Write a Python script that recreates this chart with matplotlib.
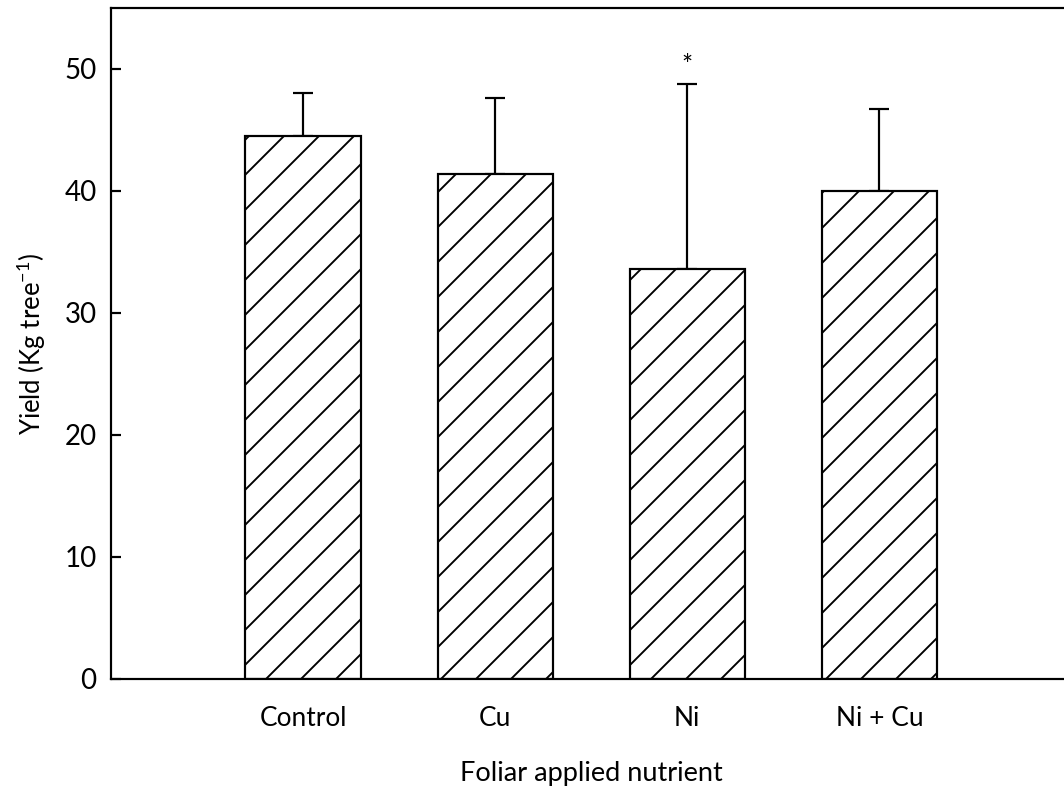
import matplotlib
matplotlib.use("Agg")
import matplotlib.pyplot as plt
import numpy as np

# Yield per tree under foliar nutrient treatments
treatments = ["Control", "Cu", "Ni", "Ni + Cu"]
yield_mean = [44.5, 41.4, 33.6, 40.0]
yield_err = [3.5, 6.2, 15.2, 6.7]
significant = [False, False, True, False]

DPI = 105
plt.rcParams["font.family"] = ["Lato", "DejaVu Sans"]
plt.rcParams["hatch.linewidth"] = 1.3

fig = plt.figure(figsize=(1064 / DPI, 791 / DPI), dpi=DPI)
ax = fig.add_axes([0.1043, 0.1416, 0.9027, 0.8483])

x = np.arange(1, len(treatments) + 1)
ax.bar(x, yield_mean, width=0.6, facecolor="white", edgecolor="black",
       linewidth=1.5, hatch="/", zorder=2)
ax.errorbar(x, yield_mean, yerr=[np.zeros(len(x)), yield_err], fmt="none",
            ecolor="black", elinewidth=1.5, capsize=7, capthick=1.5, zorder=1)

for xi, m, e, s in zip(x, yield_mean, yield_err, significant):
    if s:
        ax.text(xi, m + e + 0.8, "*", ha="center", va="baseline", fontsize=18)

ax.set_xlim(0, 5)
ax.set_ylim(0, 55)
ax.set_yticks([0, 10, 20, 30, 40, 50])
ax.set_xticks(x)
ax.set_xticklabels(treatments)

for side in ["left", "bottom", "top", "right"]:
    ax.spines[side].set_linewidth(1.5)

ax.tick_params(axis="y", direction="in", length=7, width=1.5, pad=9.9,
               labelsize=19)
ax.tick_params(axis="x", length=0, pad=18.2, labelsize=18)

ax.set_xlabel("Foliar applied nutrient", fontsize=18.6, labelpad=21)
ax.set_ylabel("Yield (Kg tree$^{\\mathregular{-1}}$)", fontsize=17.7)
ax.yaxis.set_label_coords(-0.066, 0.5)

fig.savefig("out.png", dpi=DPI)
